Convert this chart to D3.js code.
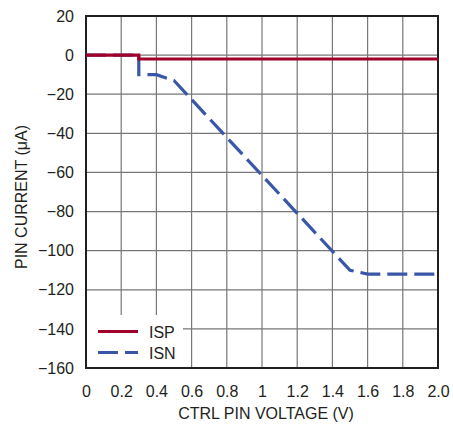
<!DOCTYPE html>
<html><head><meta charset="utf-8">
<script src="https://cdn.jsdelivr.net/npm/d3@7"></script>
<style>
body{margin:0;background:#fff;}
text{font-family:"Liberation Sans",Arial,sans-serif;fill:#231f20;}
</style></head><body>
<svg id="c" width="453" height="425"></svg>
<script>
const xTicks = [0,0.2,0.4,0.6,0.8,1,1.2,1.4,1.6,1.8,2.0];
const xTickLabels = ["0","0.2","0.4","0.6","0.8","1","1.2","1.4","1.6","1.8","2.0"];
const yTicks = [20,0,-20,-40,-60,-80,-100,-120,-140,-160];
const ispX = [0,0.3,0.3,2.0];
const ispY = [0,0,-2,-2];
const isnX = [0,0.3,0.3,0.4,0.5,1.5,1.6,2.0];
const isnY = [0,0,-10,-10,-13,-110,-112,-112];
const seriesNames = ["ISP","ISN"];

const svg = d3.select("#c");
const L=86,R=438,T=16,B=368;
const x = d3.scaleLinear().domain([0,2]).range([L,R]);
const y = d3.scaleLinear().domain([-160,20]).range([B,T]);

// grid
svg.append("g").selectAll("line").data(xTicks.slice(1,-1)).join("line")
  .attr("x1",d=>x(d)).attr("x2",d=>x(d)).attr("y1",T).attr("y2",B)
  .attr("stroke","#777").attr("stroke-width",1.2);
svg.append("g").selectAll("line").data(yTicks.slice(1,-1)).join("line")
  .attr("x1",L).attr("x2",R).attr("y1",d=>y(d)).attr("y2",d=>y(d))
  .attr("stroke","#777").attr("stroke-width",1.2);

// legend background
svg.append("rect").attr("x",L+1).attr("y",315).attr("width",96).attr("height",B-316).attr("fill","#fff");

// axes with tick labels
const xAxis = d3.axisBottom(x).tickValues(xTicks).tickFormat((d,i)=>xTickLabels[i]).tickSize(0).tickPadding(18);
const gx = svg.append("g").attr("transform",`translate(0,${B})`).call(xAxis);
gx.select(".domain").remove();
gx.selectAll("text").style("font-size","16px").attr("fill","#231f20");
const yAxis = d3.axisLeft(y).tickValues(yTicks).tickFormat(d=>d<0?"\u2212"+Math.abs(d):String(d)).tickSize(0).tickPadding(12);
const gy = svg.append("g").attr("transform",`translate(${L},0)`).call(yAxis);
gy.select(".domain").remove();
gy.selectAll("text").style("font-size","16px").attr("fill","#231f20");

// frame
svg.append("rect").attr("x",L).attr("y",T).attr("width",R-L).attr("height",B-T)
  .attr("fill","none").attr("stroke","#231f20").attr("stroke-width",2);

const line = d3.line().x(d=>x(d[0])).y(d=>y(d[1]));
svg.append("path").datum(isnX.map((v,i)=>[v,isnY[i]])).attr("d",line)
  .attr("fill","none").attr("stroke","#3a56a8").attr("stroke-width",3.2).attr("stroke-dasharray","20,7");
svg.append("path").datum(ispX.map((v,i)=>[v,ispY[i]])).attr("d",line)
  .attr("fill","none").attr("stroke","#a0002a").attr("stroke-width",3.2);

// legend
const lg = svg.append("g");
lg.append("line").attr("x1",98).attr("x2",138).attr("y1",331.5).attr("y2",331.5).attr("stroke","#a0002a").attr("stroke-width",3.2);
lg.append("line").attr("x1",98).attr("x2",138).attr("y1",352.5).attr("y2",352.5).attr("stroke","#3a56a8").attr("stroke-width",3.2).attr("stroke-dasharray","20,7");
lg.append("text").attr("x",149).attr("y",337.5).style("font-size","16px").text(seriesNames[0]);
lg.append("text").attr("x",149).attr("y",358.5).style("font-size","16px").text(seriesNames[1]);

// titles
svg.append("text").attr("x",266).attr("y",419).attr("text-anchor","middle").style("font-size","16px").text("CTRL PIN VOLTAGE (V)");
svg.append("text").attr("transform","translate(27,197) rotate(-90)").attr("text-anchor","middle").style("font-size","16px").text("PIN CURRENT (\u03bcA)");
</script></body></html>
